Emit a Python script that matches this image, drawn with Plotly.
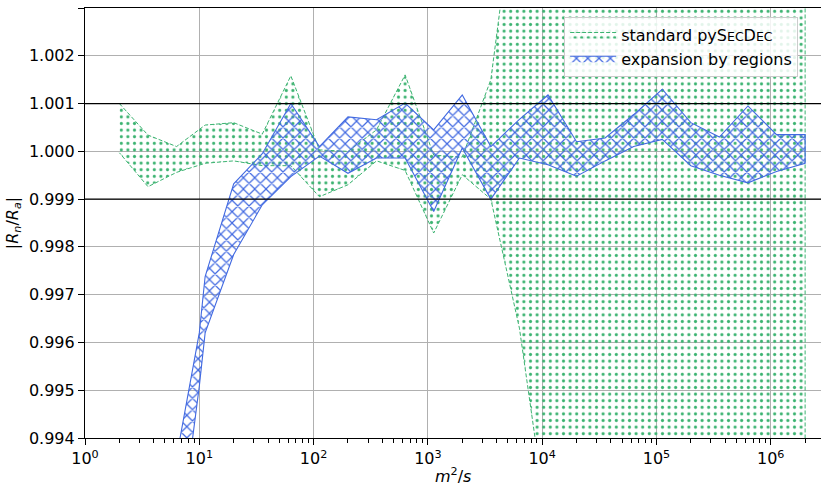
import plotly.graph_objects as go

# ---- data ----
x_grid = [2, 3.557, 6.325, 11.25, 20, 35.57, 63.25, 112.5, 200, 355.7, 632.5, 1124.7,
          2000, 3557, 6325, 11247, 20000, 35566, 63246, 112468, 200000, 355656,
          632456, 1124683, 2000000]

std_upper = [1.0010, 1.00034, 1.00010, 1.00055, 1.00060, 1.00036, 1.00158, 1.00003,
             1.00000, 1.00045, 1.00160, 0.99992, 0.99988, 1.00150, 1.00610, 1.00850,
             1.00900, 1.00800, 1.00950, 1.00880, 1.00920, 1.00850, 1.00900, 1.00870,
             1.00900]
std_lower = [0.99997, 0.99926, 0.99956, 0.99975, 0.99980, 0.99970, 0.99970, 0.99905,
             0.99930, 0.99980, 0.99960, 0.99829, 0.99951, 0.99900, 0.99630, 0.99210,
             0.98500, 0.98700, 0.98400, 0.98600, 0.98500, 0.98550, 0.98450, 0.98600,
             0.98500]

ebr_x = [6.325, 10, 11.25, 20, 35.57, 63.25, 112.5, 200, 355.7, 632.5, 1124.7,
         2000, 3557, 6325, 11247, 20000, 35566, 63246, 112468, 200000, 355656,
         632456, 1124683, 2000000]
ebr_upper = [0.99360, 0.99620, 0.99738, 0.99932, 0.99995, 1.00100, 1.00010, 1.00072,
             1.00066, 1.00101, 1.00045, 1.00118, 1.00010, 1.00067, 1.00118, 1.00020,
             1.00028, 1.00077, 1.00130, 1.00060, 1.00030, 1.00095, 1.00035, 1.00035]
ebr_lower = [0.99140, 0.99508, 0.99620, 0.99784, 0.99888, 0.99947, 0.99990, 0.99954,
             0.99986, 0.99986, 0.99874, 1.00007, 0.99900, 0.99986, 0.99972, 0.99948,
             0.99980, 1.00010, 1.00025, 0.99970, 0.99950, 0.99934, 0.99958, 0.99975]

ref_lines = [0.999, 1.001]

x_tickvals = [1, 10, 100, 1000, 10000, 100000, 1000000]
x_ticktext = ["10<sup>0</sup>", "10<sup>1</sup>", "10<sup>2</sup>", "10<sup>3</sup>",
              "10<sup>4</sup>", "10<sup>5</sup>", "10<sup>6</sup>"]
y_tickvals = [0.994, 0.995, 0.996, 0.997, 0.998, 0.999, 1.000, 1.001, 1.002, 1.003]
y_ticktext = ["0.994", "0.995", "0.996", "0.997", "0.998", "0.999", "1.000", "1.001",
              "1.002", "1.003"]

label_std = ("standard py<span>S</span><span style=\"font-size:12.5px\">EC</span>"
             "D<span style=\"font-size:12.5px\">EC</span>")
label_ebr = "expansion by regions"
x_title = "<i>m</i><sup>2</sup>/<i>s</i>"
y_title = "|<i>R</i><sub><i>n</i></sub>/<i>R</i><sub><i>a</i></sub>|"

GREEN = "#3cb371"
BLUE = "#4169e1"
FONT = "DejaVu Sans"

fig = go.Figure()

fig.add_trace(go.Scatter(
    x=x_grid + x_grid[::-1],
    y=std_upper + std_lower[::-1],
    mode="lines", fill="toself", name=label_std,
    line=dict(color=GREEN, width=1, dash="4px,2px"),
    fillcolor="rgba(0,0,0,0)",
    fillpattern=dict(shape=".", fgcolor=GREEN, size=6.6, solidity=0.17, fillmode="replace"),
))
fig.add_trace(go.Scatter(
    x=ebr_x + ebr_x[::-1],
    y=ebr_upper + ebr_lower[::-1],
    mode="lines", fill="toself", name=label_ebr,
    line=dict(color=BLUE, width=1.1),
    fillcolor="rgba(0,0,0,0)",
    fillpattern=dict(shape="x", fgcolor=BLUE, size=8, solidity=0.28, fillmode="replace"),
))

for v in ref_lines:
    fig.add_hline(y=v, line=dict(color="black", width=1.2), layer="above")

minor_vals = [d * 10 ** e for e in range(0, 7) for d in range(2, 10)]

fig.add_annotation(text=x_title, xref="paper", yref="paper", x=0.5, y=-0.088,
                   xanchor="center", yanchor="middle", showarrow=False,
                   font=dict(family=FONT, size=16, color="black"))

fig.update_layout(
    width=821, height=488,
    margin=dict(l=85, r=0, t=8, b=50, autoexpand=False),
    plot_bgcolor="white", paper_bgcolor="white",
    font=dict(family=FONT, size=16, color="black"),
    showlegend=True,
    legend=dict(x=0.651, y=0.98, xanchor="left", yanchor="top",
                bgcolor="rgba(255,255,255,0.85)", bordercolor="#cccccc", borderwidth=1,
                font=dict(family=FONT, size=16), itemwidth=46,
                tracegroupgap=2),
)
fig.update_xaxes(
    type="log", range=[0, 6.44], automargin=False,
    tickvals=x_tickvals, ticktext=x_ticktext,
    ticks="outside", ticklen=6, tickwidth=1, tickcolor="black",
    showgrid=True, gridcolor="#b0b0b0", gridwidth=1,
    showline=True, linecolor="black", linewidth=1.2, mirror=True,
    zeroline=False,
    minor=dict(tickvals=minor_vals, ticks="outside", ticklen=3.5, tickcolor="black",
               showgrid=False),
    tickfont=dict(family=FONT, size=16),
)
fig.update_yaxes(
    range=[0.994, 1.003], automargin=False,
    tickvals=y_tickvals, ticktext=y_ticktext,
    ticks="outside", ticklen=6, tickwidth=1, tickcolor="black",
    showgrid=True, gridcolor="#b0b0b0", gridwidth=1,
    showline=True, linecolor="black", linewidth=1.2, mirror=True,
    zeroline=False,
    title=dict(text=y_title, standoff=6, font=dict(family=FONT, size=16)),
    tickfont=dict(family=FONT, size=16),
)

fig.write_html("out.html", config={"displayModeBar": False},
               post_script="document.body.style.margin='0px';")
